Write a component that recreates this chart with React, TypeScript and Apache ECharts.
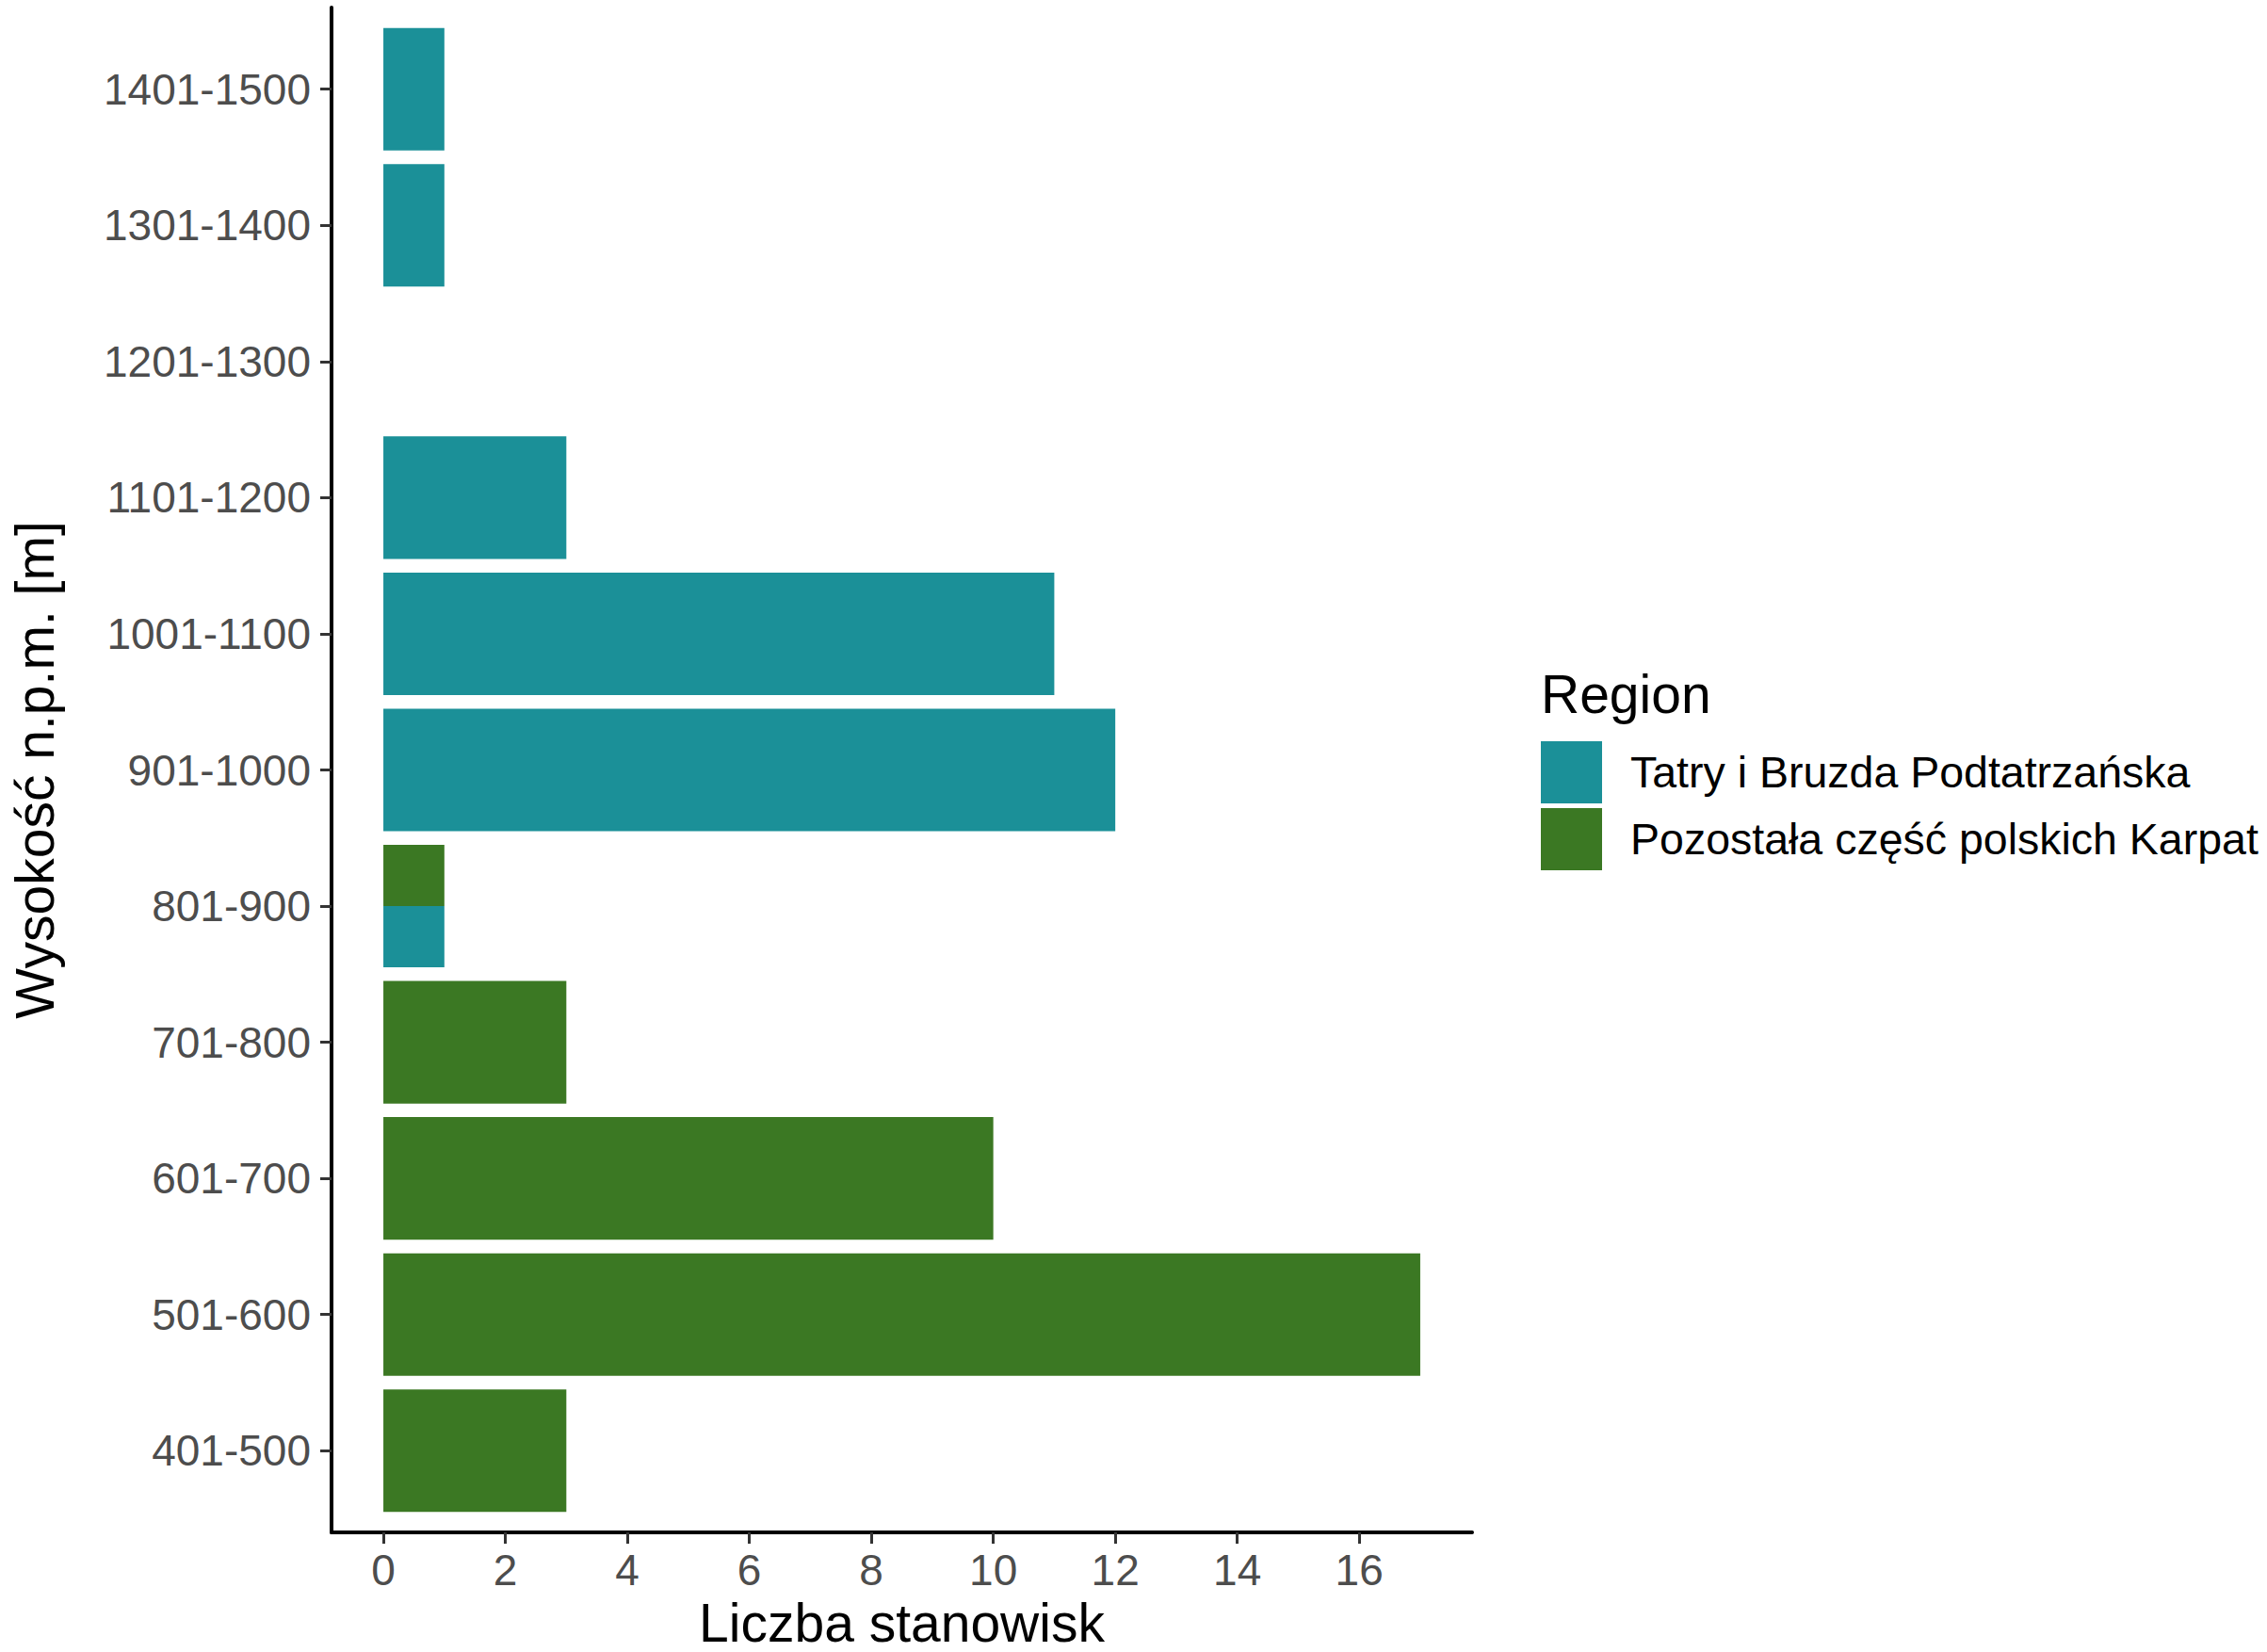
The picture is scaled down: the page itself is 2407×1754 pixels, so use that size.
import React, { useEffect, useRef } from "react";
import * as echarts from "echarts";

// Altitude classes, bottom to top
const categories = [
  "401-500",
  "501-600",
  "601-700",
  "701-800",
  "801-900",
  "901-1000",
  "1001-1100",
  "1101-1200",
  "1201-1300",
  "1301-1400",
  "1401-1500",
];
const seriesNames = ["Tatry i Bruzda Podtatrzańska", "Pozostała część polskich Karpat"];
const tatryValues = [0, 0, 0, 0, 1, 12, 11, 3, 0, 1, 1];
const pozostalaValues = [3, 17, 10, 3, 1, 0, 0, 0, 0, 0, 0];
const xTicks = [0, 2, 4, 6, 8, 10, 12, 14, 16];
const colors = ["#1B9098", "#3B7823"];

const FONT = "'Liberation Sans', Arial, Helvetica, sans-serif";

function buildData(seriesIdx: number) {
  const all = [tatryValues, pozostalaValues];
  const out: number[][] = [];
  categories.forEach((_, ci) => {
    const present = all.map((arr, si) => ({ si, v: arr[ci] })).filter((d) => d.v > 0);
    const slot = present.findIndex((d) => d.si === seriesIdx);
    if (slot >= 0) out.push([all[seriesIdx][ci], ci, slot, present.length]);
  });
  return out;
}

function renderItem(params: any, api: any) {
  const val = api.value(0);
  const cat = api.value(1);
  const slot = api.value(2);
  const n = api.value(3);
  const start = api.coord([0, cat]);
  const end = api.coord([val, cat]);
  const unit = Math.abs(api.size([0, 1])[1]);
  const bandH = unit * 0.9;
  const slotH = bandH / n;
  const y = start[1] + bandH / 2 - (slot + 1) * slotH;
  return {
    type: "rect",
    shape: { x: start[0], y, width: end[0] - start[0], height: slotH },
    style: api.style(),
  };
}

export default function App() {
  const ref = useRef<HTMLDivElement>(null);
  useEffect(() => {
    if (!ref.current) return;
    const chart = echarts.init(ref.current, undefined, { renderer: "svg" });
    chart.setOption({
      animation: false,
      backgroundColor: "#ffffff",
      textStyle: { fontFamily: FONT },
      grid: {
        left: 352,
        top: 8,
        width: 1211,
        height: 1619,
        containLabel: false,
        outerBoundsMode: "none",
      },
      xAxis: {
        type: "value",
        min: -0.85,
        max: 17.85,
        name: "Liczba stanowisk",
        nameLocation: "middle",
        nameGap: 64,
        nameTextStyle: { fontSize: 57, lineHeight: 56, color: "#000000", fontFamily: FONT },
        axisLine: { show: true, onZero: false, lineStyle: { color: "#000000", width: 4 } },
        axisTick: { show: true, length: 12, customValues: xTicks, lineStyle: { color: "#333333", width: 3 } },
        axisLabel: {
          show: true,
          customValues: xTicks,
          fontSize: 46,
          color: "#4D4D4D",
          margin: 17,
          fontFamily: FONT,
        },
        splitLine: { show: false },
      },
      yAxis: {
        type: "value",
        min: -0.6,
        max: 10.6,
        name: "Wysokość n.p.m. [m]",
        nameLocation: "middle",
        nameRotate: 90,
        nameGap: 287,
        nameTextStyle: { fontSize: 57, lineHeight: 56, color: "#000000", fontFamily: FONT },
        axisLine: { show: true, onZero: false, lineStyle: { color: "#000000", width: 4 } },
        axisTick: {
          show: true,
          length: 12,
          customValues: categories.map((_, i) => i),
          lineStyle: { color: "#333333", width: 3 },
        },
        axisLabel: {
          show: true,
          customValues: categories.map((_, i) => i),
          formatter: (v: number) => categories[Math.round(v)] ?? "",
          fontSize: 46,
          color: "#4D4D4D",
          margin: 22,
          fontFamily: FONT,
        },
        splitLine: { show: false },
      },
      legend: {
        orient: "vertical",
        left: 1636,
        top: 787,
        padding: 0,
        itemWidth: 65,
        itemHeight: 66,
        itemGap: 5,
        icon: "rect",
        data: seriesNames,
        textStyle: { fontSize: 46.5, color: "#000000", fontFamily: FONT, padding: [0, 0, 0, 25] },
        selectedMode: false,
      },
      graphic: [
        {
          type: "text",
          left: 1636,
          top: 708,
          style: { text: "Region", fontSize: 57, fill: "#000000", fontFamily: FONT },
        },
      ],
      series: [0, 1].map((si) => ({
        type: "custom",
        name: seriesNames[si],
        renderItem,
        itemStyle: { color: colors[si] },
        encode: { x: 0, y: 1 },
        data: buildData(si),
      })),
    });
    return () => chart.dispose();
  }, []);
  return (
    <div
      ref={ref}
      style={{ position: "fixed", left: 0, top: 0, width: 2407, height: 1754 }}
    />
  );
}
